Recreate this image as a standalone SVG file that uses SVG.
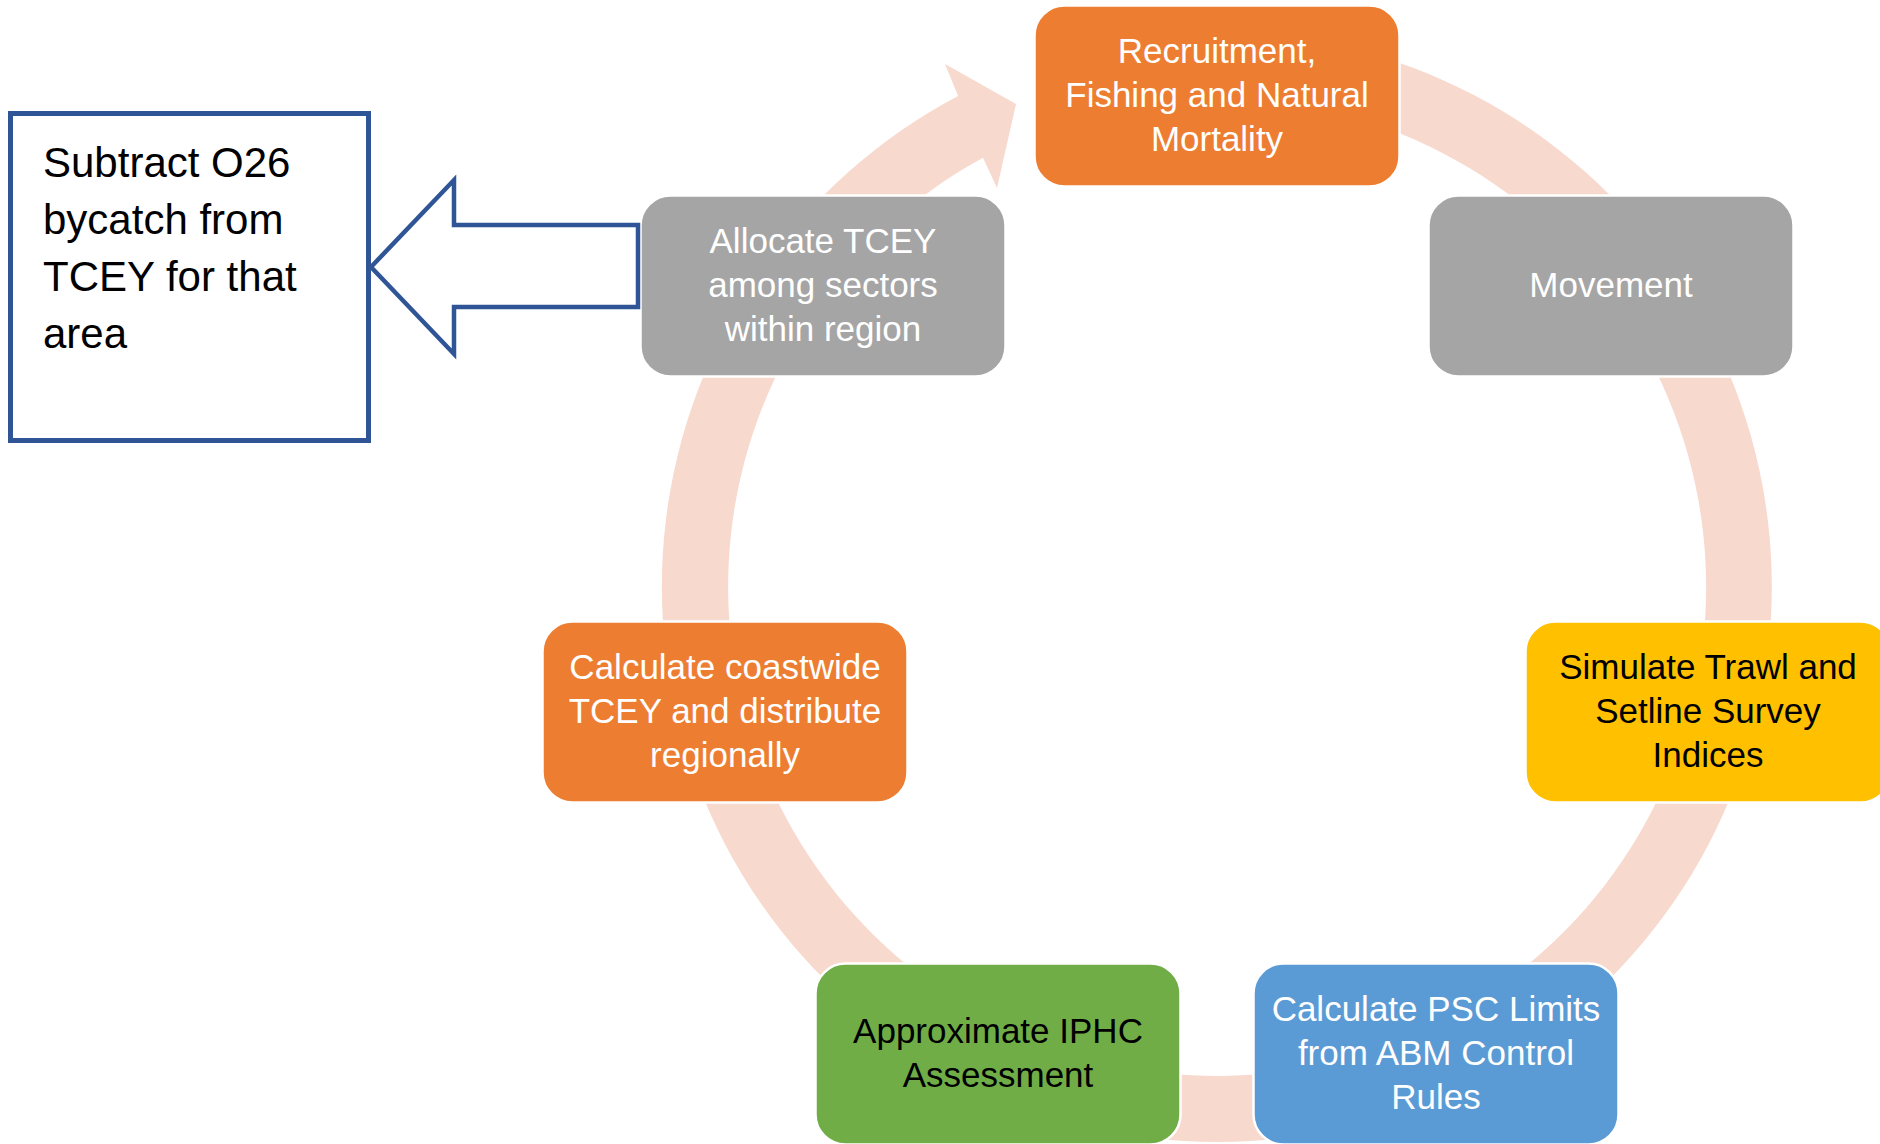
<svg xmlns="http://www.w3.org/2000/svg" width="1880" height="1144" viewBox="0 0 1880 1144">
<style>
  .node { stroke: #FFFFFF; stroke-width: 2.5; }
  .t { font-family: "Liberation Sans", Arial, sans-serif; font-size: 35px; text-anchor: middle; }
  .w { fill: #FFFFFF; }
  .k { fill: #000000; }
  .note { font-family: "Liberation Sans", Arial, sans-serif; font-size: 42px; fill: #000000; }
</style>
<rect x="0" y="0" width="1880" height="1144" fill="#FFFFFF"/>
<g id="connectors">
  <path id="cycle-ring" d="M 1217,32 A 555 555 0 1 1 958.1,96 L 945,64 L 1016,104 L 997,188 L 983,157.7 A 489 489 0 1 0 1217,98 Z" fill="#F8D9CE"/>
</g>
<g id="node-recruitment">
  <rect class="node" x="1034.5" y="5.5" width="365" height="181" rx="30" fill="#ED7D31"/>
  <text class="t w" x="1217" y="63">Recruitment,</text>
  <text class="t w" x="1217" y="107">Fishing and Natural</text>
  <text class="t w" x="1217" y="151">Mortality</text>
</g>
<g id="node-movement">
  <rect class="node" x="1428.5" y="195.5" width="365" height="181" rx="30" fill="#A5A5A5"/>
  <text class="t w" x="1611" y="297">Movement</text>
</g>
<g id="node-simulate">
  <rect class="node" x="1525.5" y="621.5" width="365" height="181" rx="30" fill="#FFC000"/>
  <text class="t k" x="1708" y="679">Simulate Trawl and</text>
  <text class="t k" x="1708" y="723">Setline Survey</text>
  <text class="t k" x="1708" y="767">Indices</text>
</g>
<g id="node-psc">
  <rect class="node" x="1253.5" y="963.5" width="365" height="181" rx="30" fill="#5B9BD5"/>
  <text class="t w" x="1436" y="1021">Calculate PSC Limits</text>
  <text class="t w" x="1436" y="1065">from ABM Control</text>
  <text class="t w" x="1436" y="1109">Rules</text>
</g>
<g id="node-iphc">
  <rect class="node" x="815.5" y="963.5" width="365" height="181" rx="30" fill="#70AD47"/>
  <text class="t k" x="998" y="1043">Approximate IPHC</text>
  <text class="t k" x="998" y="1087">Assessment</text>
</g>
<g id="node-coastwide">
  <rect class="node" x="542.5" y="621.5" width="365" height="181" rx="30" fill="#ED7D31"/>
  <text class="t w" x="725" y="679">Calculate coastwide</text>
  <text class="t w" x="725" y="723">TCEY and distribute</text>
  <text class="t w" x="725" y="767">regionally</text>
</g>
<g id="node-allocate">
  <rect class="node" x="640.5" y="195.5" width="365" height="181" rx="30" fill="#A5A5A5"/>
  <text class="t w" x="823" y="253">Allocate TCEY</text>
  <text class="t w" x="823" y="297">among sectors</text>
  <text class="t w" x="823" y="341">within region</text>
</g>
<g id="block-arrow">
  <polygon points="371,267 454,180 454,225 638,225 638,307 454,307 454,354" fill="#FFFFFF" stroke="#2F5597" stroke-width="4.5" stroke-linejoin="miter"/>
</g>
<g id="node-subtract">
  <rect x="10.5" y="113.5" width="358" height="327" fill="#FFFFFF" stroke="#2F5597" stroke-width="5"/>
  <text class="note" x="43" y="177">Subtract O26</text>
  <text class="note" x="43" y="234">bycatch from</text>
  <text class="note" x="43" y="291">TCEY for that</text>
  <text class="note" x="43" y="348">area</text>
</g>
</svg>
